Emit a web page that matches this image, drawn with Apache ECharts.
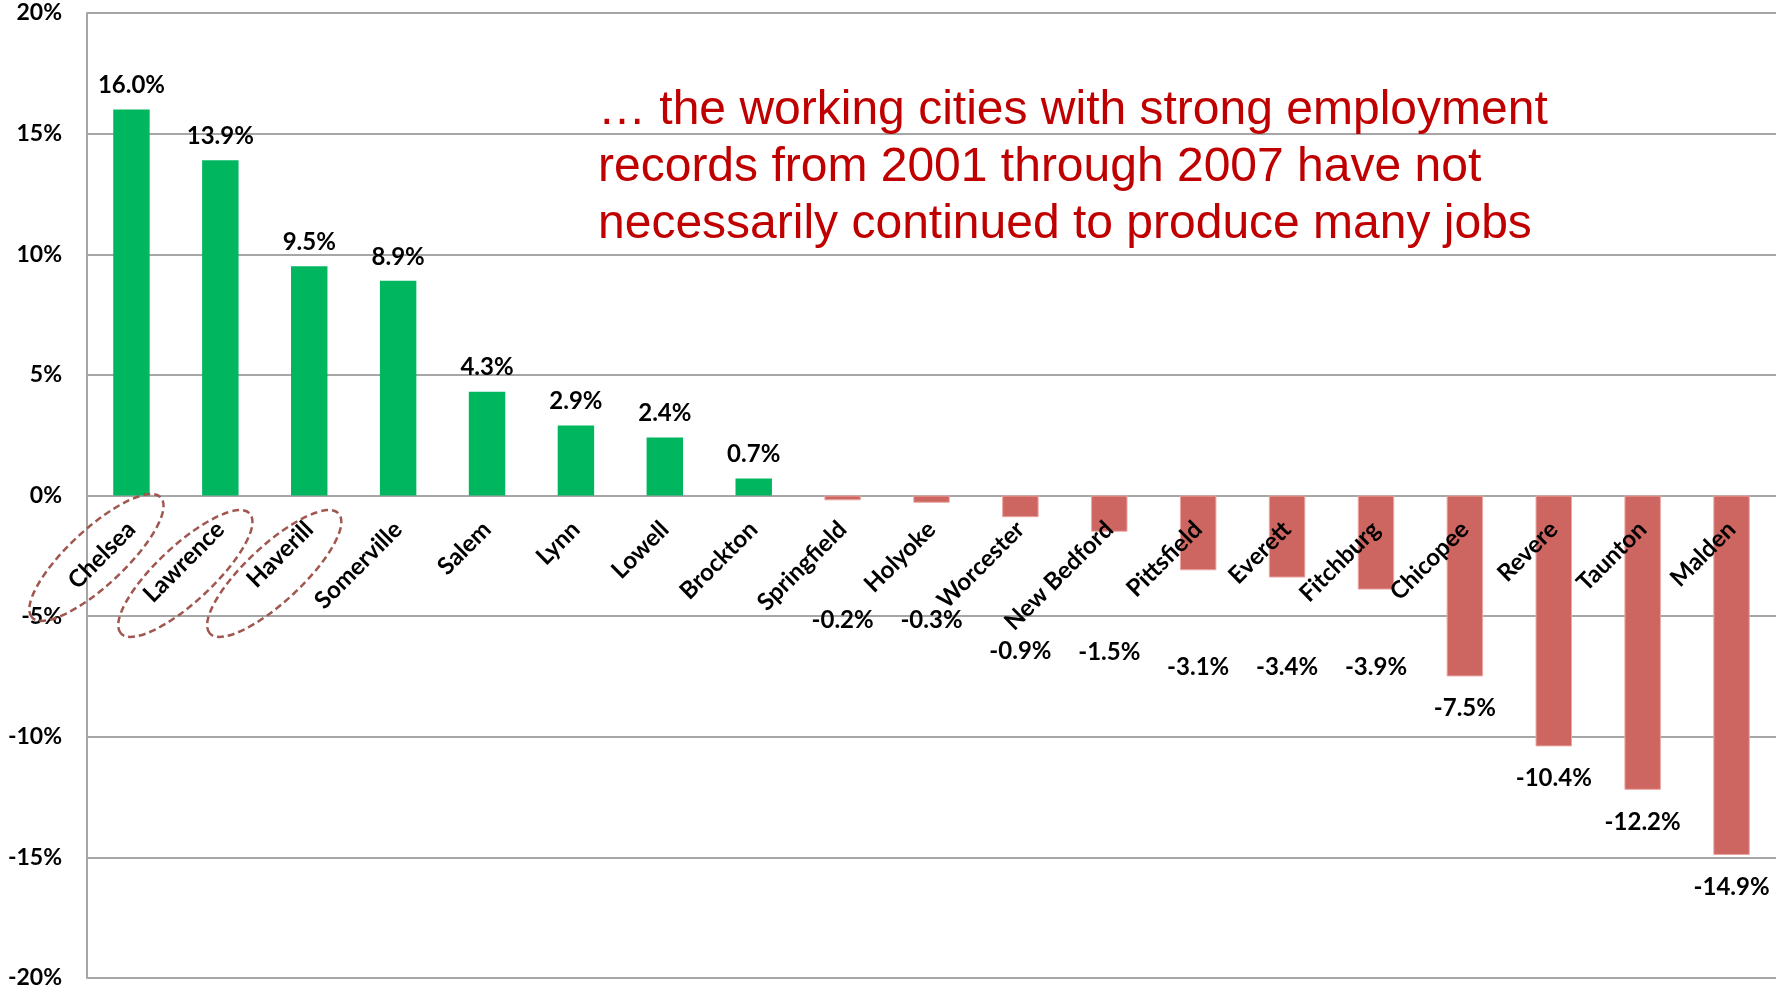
<!DOCTYPE html>
<html>
<head>
<meta charset="utf-8">
<script src="https://cdn.jsdelivr.net/npm/echarts@6/dist/echarts.min.js"></script>
<style>
html,body{margin:0;padding:0;background:#fff;}
#chart{width:1780px;height:992px;}
</style>
</head>
<body>
<div id="chart"></div>
<script>
// ---- data ----
const cities = ['Chelsea','Lawrence','Haverill','Somerville','Salem','Lynn','Lowell','Brockton','Springfield','Holyoke','Worcester','New Bedford','Pittsfield','Everett','Fitchburg','Chicopee','Revere','Taunton','Malden'];
const change = [16.0,13.9,9.5,8.9,4.3,2.9,2.4,0.7,-0.2,-0.3,-0.9,-1.5,-3.1,-3.4,-3.9,-7.5,-10.4,-12.2,-14.9];
const yTicks = [-20,-15,-10,-5,0,5,10,15,20];
const highlighted = ['Chelsea','Lawrence','Haverill'];
const noteLines = ['\u2026 the working cities with strong employment','records from 2001 through 2007 have not','necessarily continued to produce many jobs'];

// ---- style (label nudges in px, moved clear of the category labels) ----
const labelNudgeY = [0,0,0,0,0,0,0,0,88,86,102,89,65,58,46,0,0,0,0];
const ringDy = [62,78,78];

const GREEN = '#00B760', RED = '#CD6660', GRID = '#A6A6A6';
const FONT = 'Lato';
const GRID_BOTTOM = 14;

const chart = echarts.init(document.getElementById('chart'));

const seriesData = change.map((v, i) => ({
  value: v,
  itemStyle: v >= 0 ? { color: GREEN } : { color: RED, borderColor: '#EBA6A2', borderWidth: 1 },
  label: v >= 0
    ? { position: 'top', distance: 12 }
    : { position: 'bottom', distance: 20, offset: [0, labelNudgeY[i]] }
}));

chart.setOption({
  animation: false,
  grid: { left: 87, right: 4, top: 13, bottom: GRID_BOTTOM, containLabel: false, outerBoundsMode: 'none' },
  xAxis: {
    type: 'category',
    data: cities,
    position: 'bottom',
    offset: 0,
    z: 5,
    axisLine: { show: false, onZero: false },
    axisTick: { show: false },
    axisLabel: {
      show: true, interval: 0, rotate: 45, margin: 30, hideOverlap: false,
      fontFamily: FONT, fontWeight: 'bold', fontSize: 24, color: '#000'
    },
    splitLine: { show: false }
  },
  yAxis: {
    type: 'value', min: yTicks[0], max: yTicks[yTicks.length - 1], interval: 5,
    axisLine: { show: true, lineStyle: { color: GRID, width: 2 } },
    axisTick: { show: false },
    splitLine: { show: true, lineStyle: { color: GRID, width: 2 } },
    axisLabel: {
      margin: 25, fontFamily: FONT, fontWeight: 'bold', fontSize: 23, color: '#000',
      formatter: v => v + '%'
    }
  },
  series: [{
    type: 'bar',
    data: seriesData,
    barWidth: '41%',
    z: 2,
    label: {
      show: true, fontFamily: FONT, fontWeight: 'bold', fontSize: 24, color: '#000',
      formatter: p => p.value.toFixed(1) + '%'
    }
  }]
});

// move the category axis up to the zero line
const y0 = chart.convertToPixel({ yAxisIndex: 0 }, 0);
const yBottom = chart.convertToPixel({ yAxisIndex: 0 }, yTicks[0]);
chart.setOption({ xAxis: { offset: -(yBottom - y0) } });

const graphics = highlighted.map((name, k) => {
  const x = chart.convertToPixel({ xAxisIndex: 0 }, name);
  return {
    type: 'ellipse',
    x: x - 35, y: y0 + ringDy[k],
    rotation: 43 * Math.PI / 180,
    shape: { cx: 0, cy: 0, rx: 88, ry: 28 },
    style: { fill: 'none', stroke: '#A0574F', lineWidth: 2.5, lineDash: [7, 4] },
    z: 10
  };
});
noteLines.forEach((t, i) => {
  graphics.push({
    type: 'text', x: 598, y: 111 + i * 57,
    style: {
      text: t, fill: '#C00000', fontFamily: 'Liberation Sans', fontSize: 48,
      verticalAlign: 'middle', align: 'left'
    },
    z: 10
  });
});
chart.setOption({ graphic: graphics });
</script>
</body>
</html>
